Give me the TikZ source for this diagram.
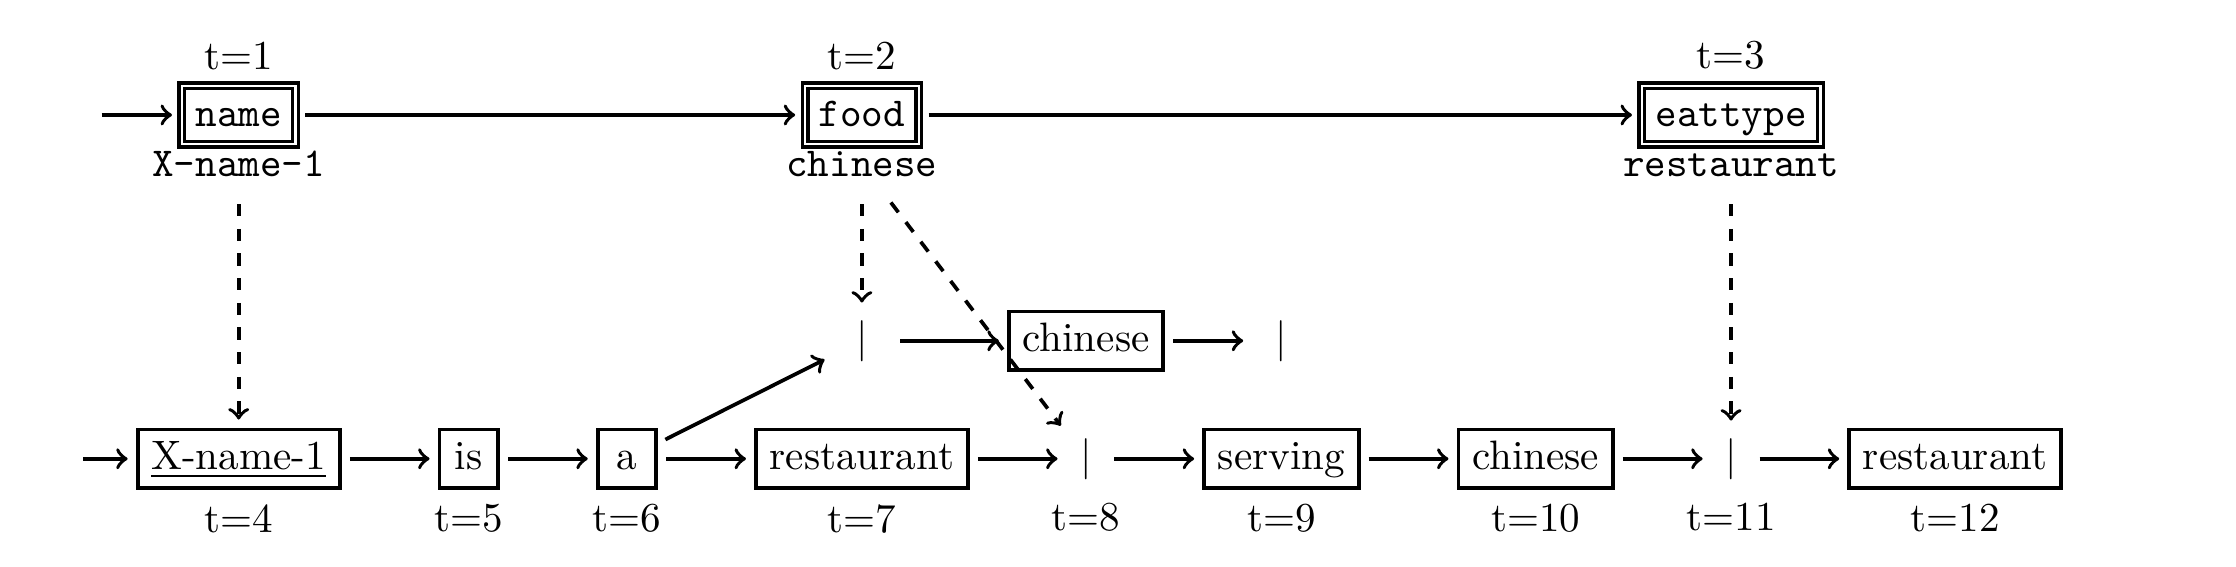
\documentclass[tikz,border=0pt]{standalone}
\usetikzlibrary{positioning}
\begin{document}
\begin{tikzpicture}[
  base/.style={inner sep=3.33pt, minimum width=14.2pt, text height=1.5ex, text depth=.25ex},
  wbox/.style={base, draw, line width=0.9pt},
  kbox/.style={base, draw, thick, double, font=\ttfamily},
  barnode/.style={inner sep=3.33pt, text height=1.5ex, text depth=.25ex},
  mbar/.style={base},
  val/.style={font=\ttfamily, inner sep=3.33pt, inner ysep=4.4pt, anchor=base},
  arr/.style={->, line width=0.9pt, shorten <=2pt, shorten >=2pt},
  darr/.style={arr, dashed},
  node distance=23.4pt
]
\useasboundingbox (0,0) rectangle (544.04pt,-137.96pt);
% bottom row
\node[wbox, label={below:{t=4}}] (xname) at (58.08pt,-111.63pt) {\underline{X-name-1}};
\node[wbox, right=of xname, label={below:{t=5}}] (is) {is};
\node[wbox, right=of is, label={below:{t=6}}] (a) {a};
\node[wbox, right=of a, label={below:{t=7}}] (rest1) {restaurant};
\node[barnode, right=of rest1, label={below:{t=8}}] (b8) {$|$};
\node[wbox, right=of b8, label={below:{t=9}}] (serving) {serving};
\node[wbox, right=of serving, label={below:{t=10}}] (chin2) {chinese};
\node[barnode, right=of chin2, label={below:{t=11}}] (b11) {$|$};
\node[wbox, right=of b11, label={below:{t=12}}] (rest2) {restaurant};
% middle row
\coordinate (midy) at (0,-82.92pt);
\node[mbar] (m1) at (rest1 |- midy) {$|$};
\node[wbox] (mchin) at (b8 |- midy) {chinese};
\node[mbar] (m2) at (serving |- midy) {$|$};
% top row
\coordinate (topy) at (0,-27.98pt);
\node[kbox, label={[font=\rmfamily]above:{t=1}}] (name) at (xname |- topy) {name};
\node[kbox, label={[font=\rmfamily]above:{t=2}}] (food) at (rest1 |- topy) {food};
\node[kbox, label={[font=\rmfamily]above:{t=3}}] (eat) at (b11 |- topy) {eattype};
\node[val] (nameval) at ([yshift=-15.04pt]name.center) {X-name-1};
\node[val] (foodval) at ([yshift=-15.04pt]food.center) {chinese};
\node[val] (eatval) at ([yshift=-15.04pt]eat.center) {restaurant};
% incoming
\coordinate (in1) at ([xshift=-39.88pt]xname.center);
\coordinate (in2) at ([xshift=-35.34pt]name.center);
% arrows
\draw[arr] (in1) -- (xname);
\draw[arr] (xname) -- (is);
\draw[arr] (is) -- (a);
\draw[arr] (a) -- (rest1);
\draw[arr] (rest1) -- (b8);
\draw[arr] (b8) -- (serving);
\draw[arr] (serving) -- (chin2);
\draw[arr] (chin2) -- (b11);
\draw[arr] (b11) -- (rest2);
\draw[arr] (a) -- (m1);
\draw[arr] (m1) -- (mchin);
\draw[arr] (mchin) -- (m2);
\draw[arr] (in2) -- (name);
\draw[arr] (name) -- (food);
\draw[arr] (food) -- (eat);
\draw[darr] (nameval) -- (xname);
\draw[darr] (foodval) -- (m1);
\draw[darr] (foodval) -- (b8);
\draw[darr] (eatval) -- (b11);
\end{tikzpicture}
\end{document}
